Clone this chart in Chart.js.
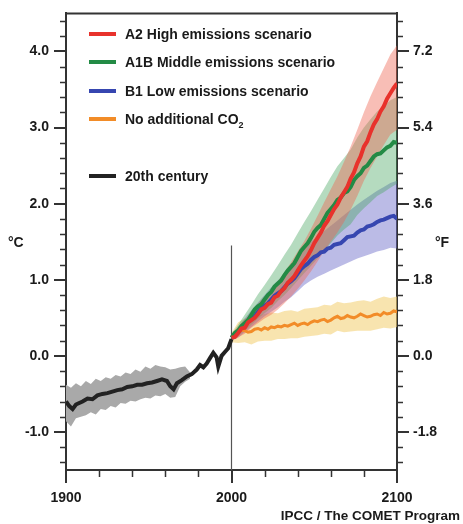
<!DOCTYPE html>
<html>
<head>
<meta charset="utf-8">
<script src="https://cdn.jsdelivr.net/npm/chart.js@4.4.1/dist/chart.umd.min.js"></script>
<style>
    body { margin: 0; background: #fff; }
    #wrap { position: relative; width: 463px; height: 524px; font-family: "Liberation Sans", Arial, sans-serif; font-weight: bold; color: #1a1a1a; }
    #wrap canvas { position: absolute; left: 0; top: 0; }
    .txt { position: absolute; font-size: 14px; line-height: 16px; white-space: nowrap; }
    .key { position: absolute; left: 89px; width: 27px; height: 4px; }
    .lab { left: 125px; }
    sub { font-size: 9px; line-height: 0; vertical-align: -4px; }
</style>
</head>
<body>
<div id="wrap">
    <canvas id="chart" width="463" height="524"></canvas>

    <div class="key" style="top:32px;background:#e8322c"></div>
    <div class="txt lab" style="top:26px">A2 High emissions scenario</div>
    <div class="key" style="top:60px;background:#238b45"></div>
    <div class="txt lab" style="top:54px">A1B Middle emissions scenario</div>
    <div class="key" style="top:89px;background:#3646b0"></div>
    <div class="txt lab" style="top:83px">B1 Low emissions scenario</div>
    <div class="key" style="top:117px;background:#f28c28"></div>
    <div class="txt lab" style="top:111px">No additional CO<sub>2</sub></div>
    <div class="key" style="top:174px;background:#222"></div>
    <div class="txt lab" style="top:168px">20th century</div>

    <div class="txt" style="left:8px;top:234px">°C</div>
    <div class="txt" style="left:435px;top:234px">°F</div>
    <div class="txt" style="right:3px;top:508px;font-size:13.5px">IPCC / The COMET Program</div>
</div>

<script>
// DATA
var histYears = [1900,1902,1904,1906,1908,1910,1913,1916,1919,1922,1925,1928,1931,1934,1937,1940,1943,1946,1949,1952,1955,1958,1961,1963,1965,1967,1970,1973,1976,1979,1981,1983,1985,1987,1989,1991,1992,1994,1996,1998,2000];
var histTemp = [-0.60,-0.66,-0.70,-0.64,-0.62,-0.60,-0.56,-0.57,-0.52,-0.50,-0.49,-0.47,-0.45,-0.44,-0.41,-0.40,-0.38,-0.38,-0.36,-0.35,-0.33,-0.31,-0.33,-0.40,-0.44,-0.36,-0.32,-0.27,-0.24,-0.18,-0.12,-0.15,-0.10,-0.03,0.04,-0.02,-0.14,0.00,0.05,0.10,0.22];

var histBandYears = [1900,1903,1906,1909,1912,1915,1918,1921,1924,1927,1930,1933,1936,1939,1942,1945,1948,1951,1954,1957,1960,1963,1966,1969,1972,1975];
var histBandHigh = [-0.38,-0.42,-0.36,-0.40,-0.33,-0.37,-0.30,-0.33,-0.28,-0.30,-0.25,-0.27,-0.22,-0.24,-0.18,-0.21,-0.14,-0.17,-0.12,-0.14,-0.15,-0.18,-0.17,-0.15,-0.14,-0.22];
var histBandLow = [-0.86,-0.93,-0.82,-0.80,-0.78,-0.74,-0.77,-0.70,-0.71,-0.66,-0.68,-0.62,-0.63,-0.59,-0.60,-0.57,-0.55,-0.56,-0.52,-0.53,-0.50,-0.55,-0.54,-0.40,-0.34,-0.30];

// scenario lines, every 2 years 2000-2100
var lineYears = [2000,2002,2004,2006,2008,2010,2012,2014,2016,2018,2020,2022,2024,2026,2028,2030,2032,2034,2036,2038,2040,2042,2044,2046,2048,2050,2052,2054,2056,2058,2060,2062,2064,2066,2068,2070,2072,2074,2076,2078,2080,2082,2084,2086,2088,2090,2092,2094,2096,2098,2100];
var a2 = [0.24,0.25,0.30,0.36,0.37,0.44,0.47,0.50,0.55,0.61,0.63,0.68,0.70,0.77,0.79,0.85,0.89,0.96,1.00,1.05,1.12,1.19,1.25,1.31,1.39,1.48,1.55,1.62,1.71,1.77,1.85,1.93,1.99,2.08,2.15,2.22,2.33,2.41,2.53,2.62,2.75,2.82,2.94,3.04,3.11,3.21,3.28,3.38,3.45,3.52,3.58];
var a1b = [0.24,0.30,0.33,0.39,0.43,0.47,0.54,0.61,0.65,0.68,0.74,0.80,0.84,0.91,0.95,0.99,1.06,1.12,1.17,1.22,1.30,1.38,1.43,1.48,1.55,1.63,1.68,1.72,1.80,1.88,1.93,1.98,2.05,2.08,2.14,2.16,2.22,2.31,2.36,2.40,2.47,2.50,2.56,2.62,2.65,2.66,2.70,2.74,2.76,2.81,2.80];
var b1 = [0.24,0.27,0.31,0.37,0.40,0.46,0.49,0.52,0.58,0.63,0.66,0.69,0.74,0.79,0.82,0.85,0.90,0.95,0.98,1.02,1.08,1.14,1.18,1.21,1.26,1.30,1.32,1.36,1.37,1.41,1.42,1.46,1.47,1.48,1.52,1.56,1.57,1.58,1.62,1.65,1.66,1.70,1.71,1.73,1.76,1.78,1.79,1.81,1.83,1.84,1.80];
var noCO2 = [0.24,0.29,0.30,0.34,0.33,0.31,0.32,0.35,0.36,0.34,0.37,0.35,0.38,0.37,0.39,0.38,0.40,0.39,0.41,0.43,0.40,0.42,0.43,0.41,0.44,0.46,0.45,0.47,0.48,0.45,0.47,0.50,0.52,0.49,0.50,0.53,0.51,0.50,0.52,0.55,0.53,0.51,0.52,0.54,0.55,0.53,0.57,0.55,0.56,0.59,0.58];

// scenario uncertainty ranges, every 4 years
var bandYears = [2000,2004,2008,2012,2016,2020,2024,2028,2032,2036,2040,2044,2048,2052,2056,2060,2064,2068,2072,2076,2080,2084,2088,2092,2096,2100];
var a2High = [0.28,0.38,0.47,0.58,0.68,0.78,0.87,0.98,1.10,1.23,1.37,1.51,1.67,1.84,2.02,2.19,2.36,2.55,2.75,2.97,3.20,3.41,3.60,3.78,3.96,4.08];
var a2Low = [0.20,0.24,0.29,0.37,0.43,0.49,0.54,0.61,0.69,0.78,0.88,0.99,1.11,1.24,1.38,1.50,1.62,1.76,1.92,2.10,2.30,2.47,2.62,2.77,2.91,2.97];
var a1bHigh = [0.28,0.41,0.54,0.67,0.81,0.93,1.06,1.19,1.33,1.46,1.61,1.76,1.90,2.05,2.20,2.35,2.49,2.60,2.71,2.87,3.00,3.11,3.21,3.28,3.36,3.40];
var a1bLow = [0.20,0.26,0.33,0.41,0.49,0.56,0.63,0.72,0.80,0.89,0.99,1.09,1.18,1.28,1.38,1.48,1.58,1.66,1.73,1.85,1.94,2.02,2.10,2.15,2.21,2.26];
var b1High = [0.28,0.38,0.49,0.60,0.70,0.80,0.90,0.99,1.09,1.19,1.30,1.41,1.50,1.57,1.64,1.71,1.78,1.85,1.92,1.99,2.05,2.11,2.17,2.22,2.27,2.30];
var b1Low = [0.20,0.24,0.31,0.38,0.45,0.52,0.58,0.64,0.71,0.77,0.85,0.93,0.99,1.04,1.08,1.12,1.16,1.20,1.24,1.28,1.31,1.34,1.37,1.39,1.42,1.41];
var noCO2High = [0.30,0.44,0.49,0.50,0.53,0.55,0.57,0.56,0.59,0.60,0.58,0.62,0.63,0.64,0.67,0.66,0.71,0.69,0.70,0.72,0.73,0.71,0.75,0.78,0.76,0.78];
var noCO2Low = [0.18,0.17,0.18,0.15,0.19,0.20,0.20,0.22,0.22,0.23,0.23,0.25,0.26,0.27,0.29,0.28,0.33,0.31,0.32,0.33,0.33,0.33,0.35,0.37,0.36,0.38];

var yearTicks = [1900, 2000, 2100];
var celsiusTicks = [-1, 0, 1, 2, 3, 4];
var fahrenheitTicks = [-1.8, 0, 1.8, 3.6, 5.4, 7.2];
var markerYear = 2000;
var markerTop = 1.45;

var yMin = -1.5, yMax = 4.5;

function pts(xs, ys) {
    return xs.map(function (x, i) { return { x: x, y: ys[i] }; });
}

function band(xs, low, high, color, order) {
    return [
        { data: pts(xs, low), borderWidth: 0, pointRadius: 0, fill: false, order: order },
        { data: pts(xs, high), borderWidth: 0, pointRadius: 0, fill: "-1", backgroundColor: color, order: order }
    ];
}

function line(xs, ys, color, width, order) {
    return { data: pts(xs, ys), borderColor: color, borderWidth: width, pointRadius: 0, fill: false, tension: 0, order: order };
}

var datasets = []
    .concat(band(histBandYears, histBandLow, histBandHigh, "#a9a9a9", 14))
    .concat(band(bandYears, noCO2Low, noCO2High, "rgba(242,205,110,0.55)", 13))
    .concat(band(bandYears, b1Low, b1High, "rgba(105,105,200,0.45)", 12))
    .concat(band(bandYears, a1bLow, a1bHigh, "rgba(70,165,95,0.40)", 11))
    .concat(band(bandYears, a2Low, a2High, "rgba(238,100,80,0.42)", 10));

datasets.push(line([markerYear, markerYear], [markerTop, yMin], "#555", 1.2, 9));
datasets.push(line(histYears, histTemp, "#222", 4, 5));
datasets.push(line(lineYears, noCO2, "#f28c28", 3, 4));
datasets.push(line(lineYears, b1, "#3646b0", 4, 3));
datasets.push(line(lineYears, a1b, "#238b45", 4, 2));
datasets.push(line(lineYears, a2, "#e8322c", 4, 1));

// MINOR TICKS + FRAME
var frame = {
    id: "frame",
    afterDraw: function (chart) {
        var c = chart.ctx, a = chart.chartArea;
        var y = chart.scales.y, x = chart.scales.x;
        c.save();
        c.strokeStyle = "#333";
        c.lineWidth = 1.5;
        c.beginPath();
        for (var i = -7; i <= 22; i++) {
            if (i % 5 === 0) continue;
            var py = Math.round(y.getPixelForValue(i / 5)) + 0.5;
            c.moveTo(a.left - 6, py); c.lineTo(a.left, py);
            c.moveTo(a.right, py); c.lineTo(a.right + 6, py);
        }
        for (var yr = 1920; yr < 2100; yr += 20) {
            if (yr === 2000) continue;
            var px = Math.round(x.getPixelForValue(yr)) + 0.5;
            c.moveTo(px, a.bottom); c.lineTo(px, a.bottom + 7);
        }
        c.stroke();
        c.lineWidth = 2;
        c.beginPath();
        c.moveTo(a.left, a.top); c.lineTo(a.right, a.top);
        c.stroke();
        c.restore();
    }
};

var tickFont = { family: "'Liberation Sans', Arial, sans-serif", size: 14, weight: "bold" };

new Chart(document.getElementById("chart"), {
    type: "line",
    data: { datasets: datasets },
    options: {
        responsive: false,
        animation: false,
        layout: { padding: { top: 8, left: 0, right: 0, bottom: 0 } },
        plugins: { legend: { display: false }, tooltip: { enabled: false } },
        scales: {
            x: {
                type: "linear",
                min: 1900,
                max: 2100,
                afterBuildTicks: function (s) { s.ticks = yearTicks.map(function (v) { return { value: v }; }); },
                afterFit: function (s) { s.height = 54; },
                ticks: { font: tickFont, color: "#1a1a1a", padding: 7, maxRotation: 0, callback: function (v) { return String(v); } },
                grid: { drawOnChartArea: false, tickLength: 13, color: "#333", lineWidth: 2 },
                border: { color: "#333", width: 2 }
            },
            y: {
                position: "left",
                min: yMin,
                max: yMax,
                afterBuildTicks: function (s) { s.ticks = celsiusTicks.map(function (v) { return { value: v }; }); },
                afterFit: function (s) { s.width = 66; },
                ticks: { font: tickFont, color: "#1a1a1a", padding: 5, callback: function (v) { return v.toFixed(1); } },
                grid: { drawOnChartArea: false, tickLength: 12, color: "#333", lineWidth: 2 },
                border: { color: "#333", width: 2 }
            },
            yF: {
                position: "right",
                min: yMin * 1.8,
                max: yMax * 1.8,
                afterBuildTicks: function (s) { s.ticks = fahrenheitTicks.map(function (v) { return { value: v }; }); },
                afterFit: function (s) { s.width = 66; },
                ticks: { font: tickFont, color: "#1a1a1a", padding: 4, callback: function (v) { return v.toFixed(1); } },
                grid: { drawOnChartArea: false, tickLength: 12, color: "#333", lineWidth: 2 },
                border: { color: "#333", width: 2 }
            }
        }
    },
    plugins: [frame]
});
</script>
</body>
</html>
